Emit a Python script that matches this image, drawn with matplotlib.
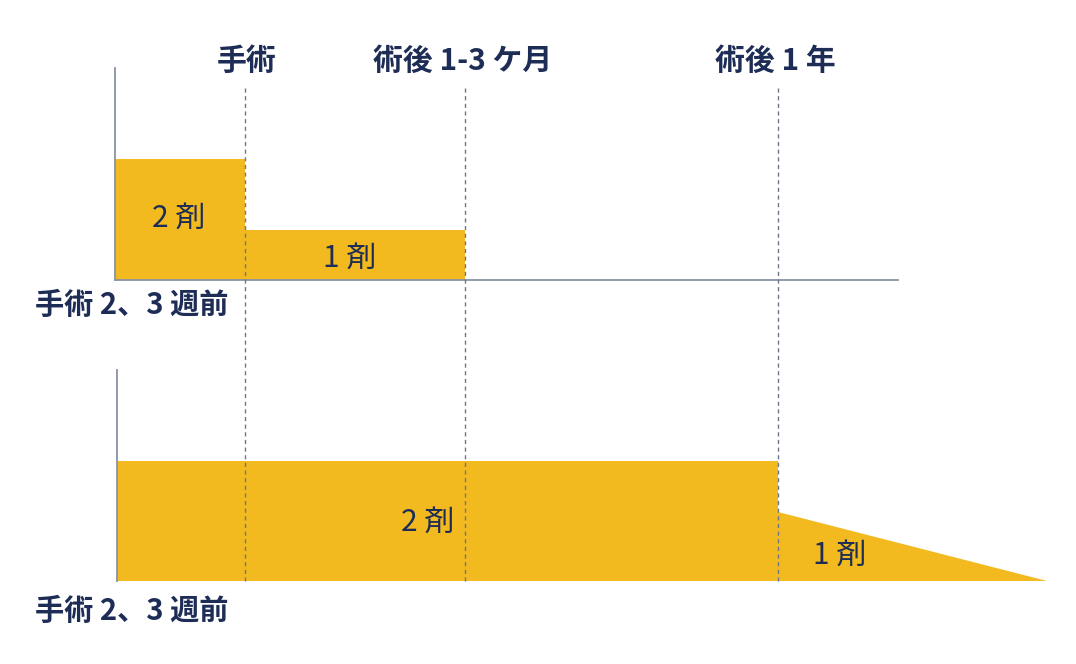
import matplotlib
matplotlib.use("Agg")
import matplotlib.pyplot as plt
from matplotlib.patches import Polygon

plt.rcParams['font.family'] = ['Noto Sans CJK JP', 'DejaVu Sans']

# ---- data (pixel-like timeline units) ----
phase_labels = ['手術', '術後 1-3 ケ月', '術後 1 年']
phase_x = [245, 465, 778]
start_label = '手術 2、3 週前'

# top scenario
top_edges = [115, 245, 465]
top_heights = [121, 50]
top_texts = ['2 剤', '1 剤']
top_base = 280

# bottom scenario
bot_edges = [117, 778, 1047]
bot_heights = [120, 69]          # rectangle height, then start height of taper
bot_texts = ['2 剤', '1 剤']
bot_base = 581

YELLOW = '#F3BA1F'
NAVY = '#1E2D55'
GRAY = '#8A92A6'

fig = plt.figure(figsize=(10.76, 6.64), dpi=100)
ax = fig.add_axes([0, 0, 1, 1])
ax.set_xlim(0, 1076)
ax.set_ylim(664, 0)
ax.axis('off')

# top bars
for i in range(len(top_heights)):
    x0, x1 = top_edges[i], top_edges[i + 1]
    ax.bar(x0, -top_heights[i], width=x1 - x0, bottom=top_base, align='edge',
           color=YELLOW, edgecolor='none', zorder=2)
top_text_pos = [(179, 218), (350, 258)]
for t, (x, y) in zip(top_texts, top_text_pos):
    ax.text(x, y, t, ha='center', va='center', fontsize=21.5, color=NAVY, zorder=4)

# top axes lines
ax.plot([top_edges[0], top_edges[0]], [68, top_base], color=GRAY, lw=1.3, zorder=3)
ax.plot([top_edges[0], 898], [top_base, top_base], color=GRAY, lw=1.3, zorder=3)

# bottom bar + taper
ax.bar(bot_edges[0], -bot_heights[0], width=bot_edges[1] - bot_edges[0],
       bottom=bot_base, align='edge', color=YELLOW, edgecolor='none', zorder=2)
ax.add_patch(Polygon([(bot_edges[1], bot_base), (bot_edges[1], bot_base - bot_heights[1]),
                      (bot_edges[2], bot_base)], closed=True, facecolor=YELLOW,
                     edgecolor='none', zorder=2))
bot_text_pos = [(428, 522), (840, 555)]
for t, (x, y) in zip(bot_texts, bot_text_pos):
    ax.text(x, y, t, ha='center', va='center', fontsize=21.5, color=NAVY, zorder=4)
ax.plot([bot_edges[0], bot_edges[0]], [370, bot_base], color=GRAY, lw=1.3, zorder=3)

# dashed phase lines
for x in phase_x:
    ax.plot([x, x], [88, bot_base], color='#6E768C', lw=1.0, ls=(0, (3, 2.5)), zorder=3)

# phase labels
label_x = [247, 463, 775]
for t, x in zip(phase_labels, label_x):
    ax.text(x, 61, t, ha='center', va='center', fontsize=21.5, fontweight='bold', color=NAVY)

for y in (305, 611):
    ax.text(132, y, start_label, ha='center', va='center', fontsize=21,
            fontweight='bold', color=NAVY)

fig.savefig('out.png', dpi=100)
